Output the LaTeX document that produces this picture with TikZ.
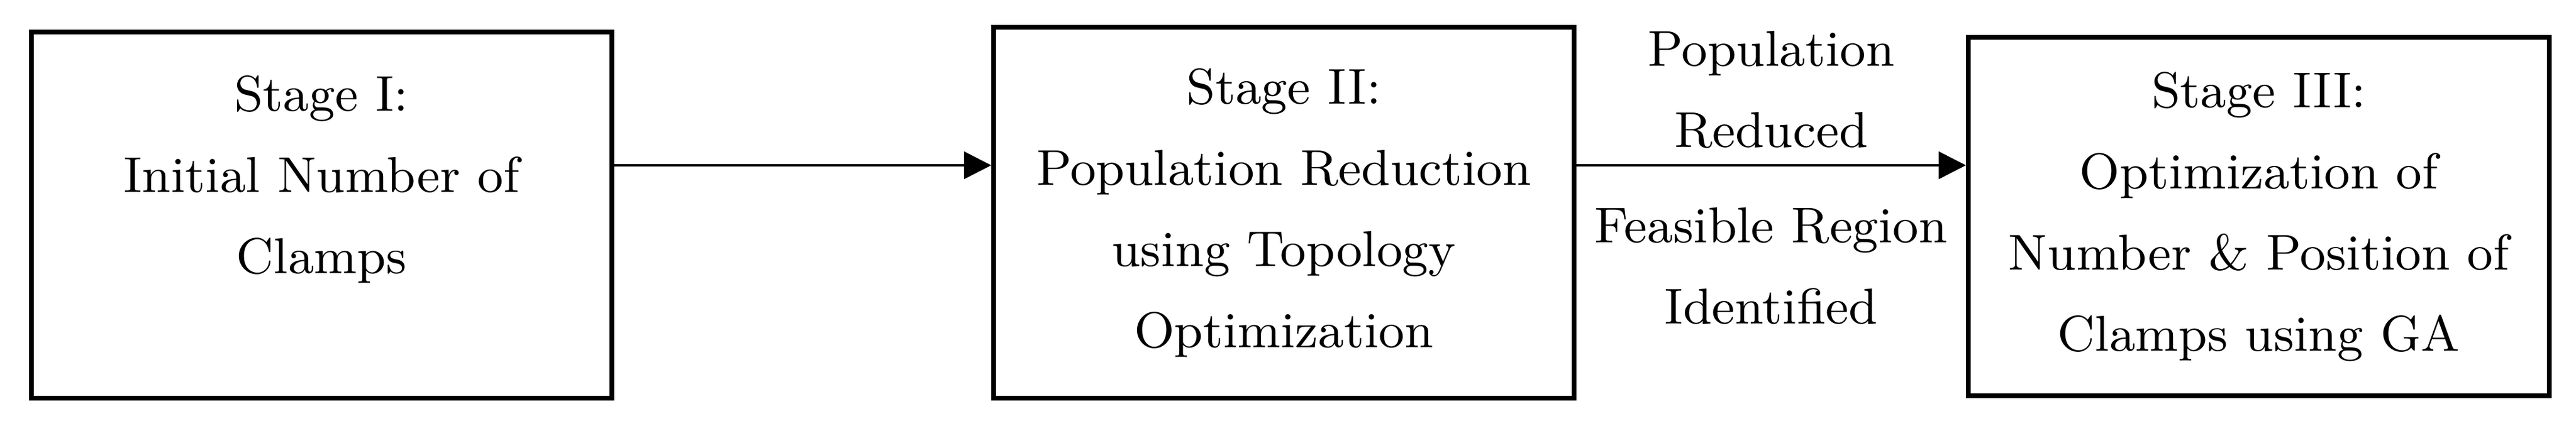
\documentclass[tikz,border=0pt]{standalone}
\usetikzlibrary{arrows.meta,positioning}
\begin{document}
\begin{tikzpicture}
\tikzstyle{stagebox}=[rectangle,draw=black,line width=0.8pt,
inner sep=0pt,align=center,minimum width=97.95pt,minimum height=61.8pt,
font=\fontsize{8.5}{13.7}\selectfont]
\tikzstyle{flowarrow}=[line width=0.4pt,-{Triangle[length=4.6pt,width=4.6pt]}]
\tikzstyle{flowlabel}=[inner sep=0pt,outer sep=0pt,align=center,
font=\fontsize{8.5}{13.7}\selectfont]
\useasboundingbox (0,0) rectangle (434.5pt,71.9pt);

\node[stagebox] at (54.225pt,35.6pt) (stage1) {Stage I:\\Initial Number of\\Clamps\\ \mbox{}};
\node[stagebox,right=63.6pt of stage1,yshift=0.4pt,minimum width=97.9pt,minimum height=62.6pt](stage2) {Stage II:\\Population Reduction\\using Topology\\Optimization};
\node[stagebox,right=65.7pt of stage2,yshift=-0.65pt,minimum width=98pt,minimum height=60.5pt](stage3) {Stage III:\\Optimization of\\Number \& Position of\\Clamps using GA};

\coordinate (out1) at ([yshift=8.4pt]stage1.east);
\coordinate (out2) at ([yshift=8pt]stage2.east);

\draw[flowarrow] (out1) -- (out1 -| stage2.west);
\draw[flowarrow] (out2) -- coordinate (mid2) (out2 -| stage3.west);

\node[flowlabel,above=2.9pt of mid2](reduced) {Population\\Reduced};
\node[flowlabel,below=7.2pt of mid2](feasible) {Feasible Region\\Identified};

\end{tikzpicture}
\end{document}
